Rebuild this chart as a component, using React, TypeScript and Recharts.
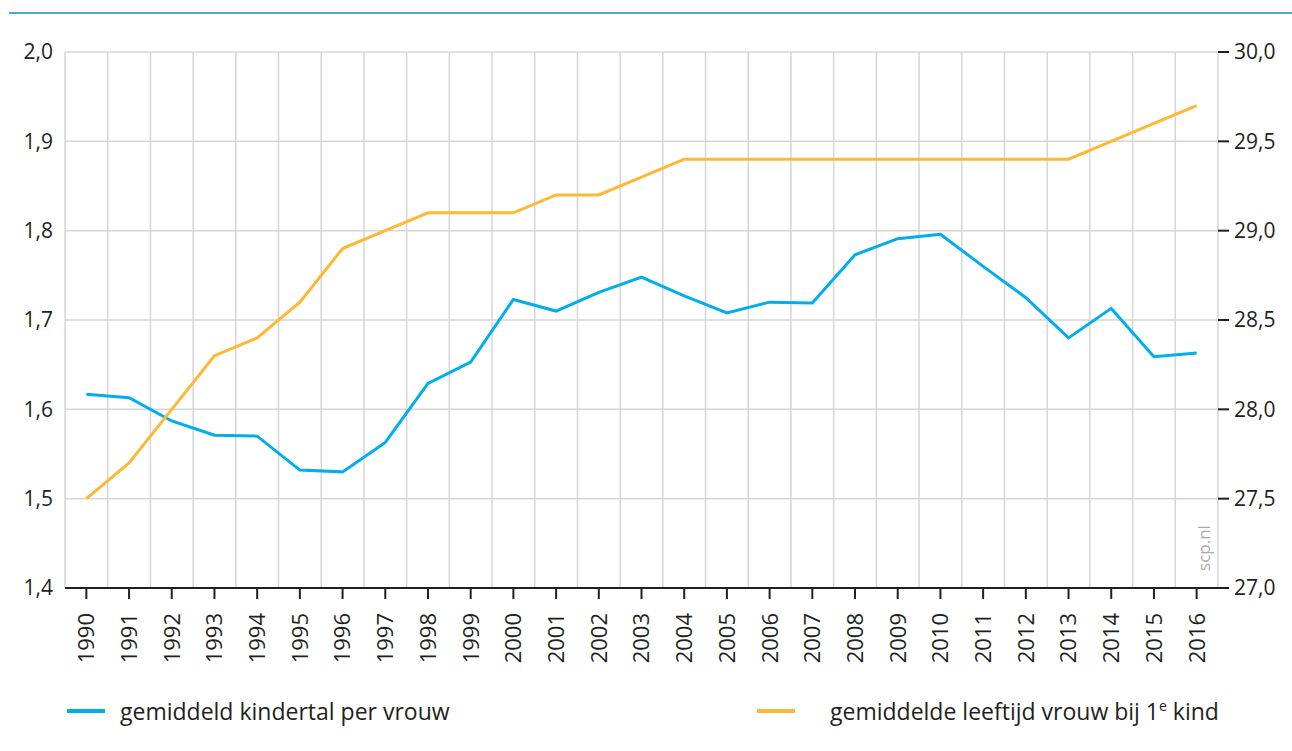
import React from "react"
import { LineChart, Line, XAxis, YAxis, CartesianGrid } from "recharts"

// years shown on the x axis
const years = [
  "1990", "1991", "1992", "1993", "1994", "1995", "1996", "1997", "1998", "1999",
  "2000", "2001", "2002", "2003", "2004", "2005", "2006", "2007", "2008", "2009",
  "2010", "2011", "2012", "2013", "2014", "2015", "2016",
]

// gemiddeld kindertal per vrouw (left axis)
const kindertal = [
  1.617, 1.613, 1.587, 1.571, 1.570, 1.532, 1.530, 1.563, 1.629, 1.653,
  1.723, 1.710, 1.731, 1.748, 1.727, 1.708, 1.720, 1.719, 1.773, 1.791,
  1.796, 1.760, 1.725, 1.680, 1.713, 1.659, 1.663,
]

// gemiddelde leeftijd vrouw bij 1e kind (right axis)
const leeftijd = [
  27.5, 27.7, 28.0, 28.3, 28.4, 28.6, 28.9, 29.0, 29.1, 29.1,
  29.1, 29.2, 29.2, 29.3, 29.4, 29.4, 29.4, 29.4, 29.4, 29.4,
  29.4, 29.4, 29.4, 29.4, 29.5, 29.6, 29.7,
]

const leftTicks = [1.4, 1.5, 1.6, 1.7, 1.8, 1.9, 2.0]
const rightTicks = [27.0, 27.5, 28.0, 28.5, 29.0, 29.5, 30.0]

const BLUE = "#00aeef"
const ORANGE = "#fdb933"
const TEXT = "#231f20"
const FONT = "'Open Sans', sans-serif"

const data = years.map((year, i) => ({
  year,
  kindertal: kindertal[i],
  leeftijd: leeftijd[i],
}))

const fmt = (v: number) => v.toFixed(1).replace(".", ",")

const YearTick = (props: any) => {
  const { x, y, payload } = props
  return (
    <text
      transform={`translate(${x},${y + 12}) rotate(-90)`}
      textAnchor="end"
      dy="0.36em"
      fontSize={22}
      fill={TEXT}
      fontFamily={FONT}
    >
      {payload.value}
    </text>
  )
}

export default function App() {
  return (
    <div style={{ position: "absolute", left: 0, top: 0, width: 1292, height: 751, background: "#fff", fontFamily: FONT }}>
      <div style={{ position: "absolute", left: 9, right: 0, top: 12, height: 2, background: "#4ea5d9" }} />
      <LineChart
        width={1292}
        height={751}
        data={data}
        margin={{ top: 52, right: 0, left: 5, bottom: 103 }}
      >
        <CartesianGrid
          yAxisId="left"
          stroke="#d6d6d6"
          strokeWidth={1.5}
          verticalCoordinatesGenerator={({ offset }: any) =>
            Array.from({ length: years.length + 1 }, (_, i) => offset.left + (i * offset.width) / years.length)
          }
        />
        <XAxis
          dataKey="year"
          scale="point"
          padding={{ left: 21.35, right: 21.35 }}
          interval={0}
          height={60}
          tickSize={11}
          axisLine={{ stroke: "#231f20", strokeWidth: 2 }}
          tickLine={{ stroke: "#231f20", strokeWidth: 2 }}
          tick={<YearTick />}
        />
        <YAxis
          yAxisId="left"
          width={60}
          domain={[1.4, 2.0]}
          ticks={leftTicks}
          tickFormatter={fmt}
          axisLine={false}
          tickLine={false}
          tickMargin={6}
          tick={{ fontSize: 21, fill: TEXT, fontFamily: FONT }}
        />
        <YAxis
          yAxisId="right"
          orientation="right"
          width={74}
          domain={[27.0, 30.0]}
          ticks={rightTicks}
          tickFormatter={fmt}
          axisLine={false}
          tickSize={11}
          tickMargin={5}
          tickLine={{ stroke: "#231f20", strokeWidth: 2 }}
          tick={{ fontSize: 21, fill: TEXT, fontFamily: FONT }}
        />
        <Line
          yAxisId="left"
          dataKey="kindertal"
          stroke={BLUE}
          strokeWidth={3}
          dot={false}
          isAnimationActive={false}
        />
        <Line
          yAxisId="right"
          dataKey="leeftijd"
          stroke={ORANGE}
          strokeWidth={3}
          dot={false}
          isAnimationActive={false}
        />
      </LineChart>
      <div
        style={{
          position: "absolute",
          left: 1203,
          top: 548,
          transform: "translate(-50%, -50%) rotate(-90deg)",
          color: "#aaaaaa",
          fontSize: 17,
          whiteSpace: "nowrap",
        }}
      >
        scp.nl
      </div>
      <div style={{ position: "absolute", left: 67, top: 695, display: "flex", alignItems: "center", fontSize: 23, color: TEXT }}>
        <span style={{ display: "inline-block", width: 38, height: 4, background: BLUE, marginRight: 15 }} />
        <span>gemiddeld kindertal per vrouw</span>
      </div>
      <div style={{ position: "absolute", left: 757, top: 695, display: "flex", alignItems: "center", fontSize: 23, color: TEXT }}>
        <span style={{ display: "inline-block", width: 38, height: 4, background: ORANGE, marginRight: 35 }} />
        <span>
          gemiddelde leeftijd vrouw bij 1<sup style={{ fontSize: 14 }}>e</sup> kind
        </span>
      </div>
    </div>
  )
}
